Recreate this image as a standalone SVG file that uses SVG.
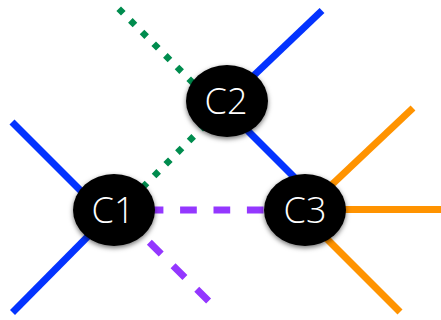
<svg xmlns="http://www.w3.org/2000/svg" width="441" height="320" viewBox="0 0 441 320">
<defs>
<style>
.blue{stroke:#0433FF;stroke-width:7;fill:none}
.orange{stroke:#FF9300;stroke-width:7;fill:none}
.green{stroke:#008C4E;stroke-width:6.5;stroke-dasharray:6.5 10;fill:none}
.purple{stroke:#9437FF;stroke-width:7;stroke-dasharray:16.7 16.7;fill:none}
.node ellipse{fill:#000;filter:url(#sh)}
.node text{fill:#fff;font-family:"Open Sans","Liberation Sans",Arial,sans-serif;font-weight:300;font-size:36px;text-anchor:middle}
</style>
<filter id="sh" x="-30%" y="-30%" width="160%" height="160%">
<feDropShadow dx="0" dy="2" stdDeviation="2.5" flood-color="#000" flood-opacity="0.55"/>
</filter>
</defs>
<rect width="441" height="320" fill="#fff"/>
<g id="connectors">
<line class="blue" x1="12" y1="122" x2="104" y2="214"/>
<line class="blue" x1="12.5" y1="312.5" x2="114" y2="210"/>
<line class="blue" x1="322" y1="10.5" x2="227" y2="101"/>
<line class="blue" x1="216" y1="99" x2="315" y2="198"/>
<line class="orange" x1="413" y1="108" x2="305" y2="210"/>
<line class="orange" x1="441" y1="209.5" x2="305" y2="209.5"/>
<line class="orange" x1="400" y1="312" x2="300" y2="212"/>
<line class="green" x1="118.7" y1="8.7" x2="220" y2="110"/>
<line class="green" x1="220" y1="110" x2="110" y2="220" stroke-dashoffset="12.25"/>
<line class="purple" x1="113.3" y1="210" x2="305" y2="210"/>
<line class="purple" x1="208.6" y1="301" x2="114" y2="207"/>
</g>
<g id="C2" class="node">
<ellipse cx="227" cy="101" rx="41" ry="36"/>
<text x="226" y="114">C2</text>
</g>
<g id="C1" class="node">
<ellipse cx="114" cy="210" rx="41" ry="36"/>
<text x="113" y="223">C1</text>
</g>
<g id="C3" class="node">
<ellipse cx="305" cy="210" rx="41" ry="36"/>
<text x="305" y="223">C3</text>
</g>
</svg>
